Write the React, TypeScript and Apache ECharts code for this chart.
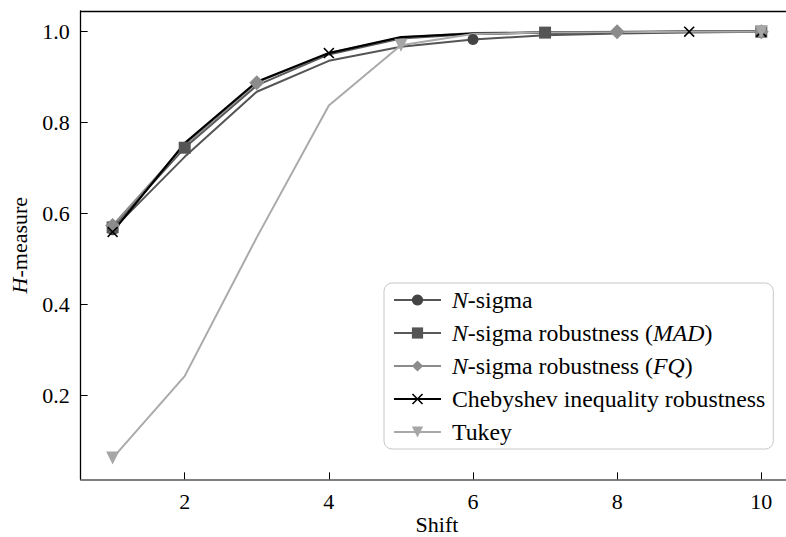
import React, { useEffect, useRef } from "react";
import * as echarts from "echarts";

const shifts = [1, 2, 3, 4, 5, 6, 7, 8, 9, 10];
const nSigma = [0.565, 0.725, 0.868, 0.936, 0.967, 0.983, 0.992, 0.996, 0.998, 1.0];
const nSigmaMad = [0.57, 0.745, 0.882, 0.95, 0.985, 0.995, 0.998, 0.999, 1.0, 1.0];
const nSigmaFq = [0.574, 0.75, 0.888, 0.953, 0.987, 0.997, 0.999, 1.0, 1.0, 1.0];
const chebyshev = [0.56, 0.755, 0.89, 0.953, 0.988, 0.996, 0.998, 0.999, 1.0, 1.0];
const tukey = [0.063, 0.243, 0.548, 0.838, 0.97, 0.995, 0.998, 0.999, 1.0, 1.0];

const nSigmaMarks = [0, 5, 9];
const madMarks = [0, 1, 6, 9];
const fqMarks = [0, 2, 7, 9];
const chebMarks = [0, 3, 8, 9];
const tukeyMarks = [0, 4, 9];

const xTicks = [2, 4, 6, 8, 10];
const yTicks = [0.2, 0.4, 0.6, 0.8, 1.0];
const xTitle = "Shift";

const seriesNames = [
  "N-sigma",
  "N-sigma robustness (MAD)",
  "N-sigma robustness (FQ)",
  "Chebyshev inequality robustness",
  "Tukey",
];
const legendLabels: Record<string, string> = {
  "N-sigma": "{i|N}{n|-sigma}",
  "N-sigma robustness (MAD)": "{i|N}{n|-sigma robustness (}{i|MAD}{n|)}",
  "N-sigma robustness (FQ)": "{i|N}{n|-sigma robustness (}{i|FQ}{n|)}",
  "Chebyshev inequality robustness": "{n|Chebyshev inequality robustness}",
  Tukey: "{n|Tukey}",
};

const FONT = "Liberation Serif";
const CROSS = "path://M0,1L1,0L5,4L9,0L10,1L6,5L10,9L9,10L5,6L1,10L0,9L4,5Z";

function buildData(vals: number[], marks: number[]) {
  return vals.map((v, i) =>
    marks.includes(i) ? [shifts[i], v] : { value: [shifts[i], v], symbol: "none" }
  );
}

export default function App() {
  const ref = useRef<HTMLDivElement>(null);
  useEffect(() => {
    document.body.style.margin = "0";
    const chart = echarts.init(ref.current!, undefined, { renderer: "svg" });
    const mk = (
      name: string,
      vals: number[],
      marks: number[],
      lineColor: string,
      markColor: string,
      symbol: string,
      symbolSize: number,
      width: number,
      rotate = 0
    ) => ({
      name,
      type: "line",
      data: buildData(vals, marks),
      symbol,
      symbolSize,
      symbolRotate: rotate,
      showSymbol: true,
      lineStyle: { color: lineColor, width },
      itemStyle: { color: markColor },
      emphasis: { disabled: true },
    });
    const richBase = { fontFamily: FONT, fontSize: 23.8, color: "#000" };
    chart.setOption({
      animation: false,
      grid: {
        left: 80.7,
        right: 0,
        top: 11,
        bottom: 57.7,
        containLabel: false,
        outerBoundsMode: "none",
      },
      graphic: [
        {
          type: "text",
          x: 437,
          y: 524,
          style: {
            text: xTitle,
            fontFamily: FONT,
            fontSize: 22,
            fill: "#000",
            textAlign: "center",
            textVerticalAlign: "middle",
          },
        },
      ],
      xAxis: [
        {
          type: "value",
          min: 0.557,
          max: 10.343,
          axisLine: { show: true, lineStyle: { color: "#555", width: 1.5 } },
          axisTick: {
            show: true,
            inside: true,
            length: 7,
            customValues: xTicks,
            lineStyle: { color: "#000", width: 1 },
          },
          axisLabel: {
            customValues: xTicks,
            margin: 11,
            fontFamily: FONT,
            fontSize: 22,
            color: "#000",
          },
          splitLine: { show: false },
        },
        {
          type: "value",
          position: "top",
          min: 0.557,
          max: 10.343,
          axisLine: { show: true, onZero: false, lineStyle: { color: "#000", width: 1.3 } },
          axisTick: { show: false },
          axisLabel: { show: false },
          splitLine: { show: false },
        },
      ],
      yAxis: {
        type: "value",
        min: 0.0163,
        max: 1.0455,
        name: "{i|H}{n|-measure}",
        nameLocation: "middle",
        nameGap: 50,
        nameTextStyle: {
          rich: {
            i: { fontFamily: FONT, fontSize: 22, fontStyle: "italic", color: "#000" },
            n: { fontFamily: FONT, fontSize: 22, color: "#000" },
          },
        },
        axisLine: { show: true, lineStyle: { color: "#000", width: 1.3 } },
        axisTick: {
          show: true,
          inside: true,
          length: 7,
          customValues: yTicks,
          lineStyle: { color: "#000", width: 1 },
        },
        axisLabel: {
          customValues: yTicks,
          margin: 11,
          fontFamily: FONT,
          fontSize: 22,
          color: "#000",
          formatter: (v: number) => v.toFixed(1),
        },
        splitLine: { show: false },
      },
      legend: {
        orient: "vertical",
        left: 384,
        top: 283,
        data: seriesNames,
        itemWidth: 47,
        itemHeight: 14,
        itemGap: 9,
        padding: [5, 8, 5, 9],
        borderColor: "#c8c8c8",
        borderWidth: 1,
        borderRadius: 8,
        backgroundColor: "#fff",
        formatter: (name: string) => legendLabels[name] || name,
        textStyle: {
          ...richBase,
          padding: [0, 0, 0, 6],
          rich: {
            i: { ...richBase, fontStyle: "italic" },
            n: { ...richBase },
          },
        },
      },
      series: [
        mk(seriesNames[0], nSigma, nSigmaMarks, "#555555", "#444444", "circle", 11, 2),
        mk(seriesNames[1], nSigmaMad, madMarks, "#595959", "#555555", "rect", 12, 2),
        mk(seriesNames[2], nSigmaFq, fqMarks, "#8c8c8c", "#8c8c8c", "diamond", 15, 2),
        mk(seriesNames[3], chebyshev, chebMarks, "#000000", "#000000", CROSS, 11, 2.2),
        mk(seriesNames[4], tukey, tukeyMarks, "#aaaaaa", "#a6a6a6", "triangle", 13, 2, 180),
      ],
    });
    return () => chart.dispose();
  }, []);
  return <div ref={ref} style={{ width: 786, height: 537 }} />;
}
